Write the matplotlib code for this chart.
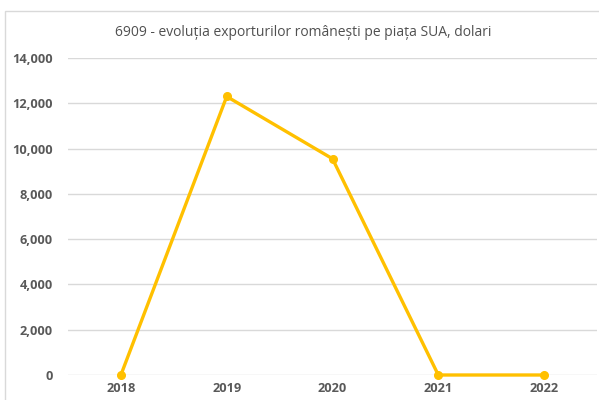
import matplotlib
matplotlib.use('Agg')
import matplotlib.pyplot as plt
from matplotlib.patches import Rectangle
from matplotlib.ticker import FuncFormatter

years = ['2018', '2019', '2020', '2021', '2022']
exports = [0, 12300, 9550, 0, 0]
y_ticks = [0, 2000, 4000, 6000, 8000, 10000, 12000, 14000]

text_color = '#595959'
grid_color = '#D9D9D9'
line_color = '#FFC000'

plt.rcParams['font.family'] = ['Open Sans', 'DejaVu Sans']

fig = plt.figure(figsize=(5.99, 4.0), dpi=100)
# outer chart border, cropped at right and bottom like the screenshot
fig.patches.append(Rectangle((5 / 599, -0.1), 2.0, 1.0725, transform=fig.transFigure,
                             fill=False, edgecolor=grid_color, linewidth=1.0))

ax = fig.add_axes([68 / 599, 25 / 400, 529 / 599, 317 / 400])
x = list(range(len(years)))
ax.plot(x, exports, color=line_color, linewidth=2.4, marker='o', markersize=5.5,
        clip_on=False, zorder=3)

ax.set_xlim(-0.5, len(years) - 0.5)
ax.set_ylim(0, 14000)
ax.set_xticks(x)
ax.set_xticklabels(years)
ax.set_yticks(y_ticks)
ax.yaxis.set_major_formatter(FuncFormatter(lambda v, p: f'{int(v):,}'))

ax.grid(axis='y', color=grid_color, linewidth=1.0)
ax.set_axisbelow(True)
for s in ax.spines.values():
    s.set_visible(False)
ax.tick_params(axis='both', length=0, colors=text_color, labelsize=9.2)
ax.tick_params(axis='y', pad=11)
ax.tick_params(axis='x', pad=5)
for lbl in ax.get_xticklabels() + ax.get_yticklabels():
    lbl.set_fontweight('bold')

fig.text(303 / 599, 1 - 32 / 400, '6909 - evoluția exporturilor românești pe piața SUA, dolari',
         ha='center', va='center', fontsize=10, color='#505050', fontweight='medium')

fig.savefig('out.png', dpi=100)
